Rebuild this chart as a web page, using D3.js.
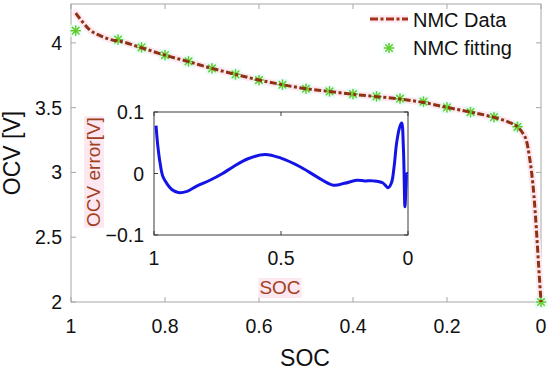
<!DOCTYPE html>
<html>
<head>
<meta charset="utf-8">
<script src="https://cdn.jsdelivr.net/npm/d3@7"></script>
<style>
  body { margin: 0; background: #fff; }
  svg text { font-family: "Liberation Sans", Arial, sans-serif; }
</style>
</head>
<body>
<svg id="chart" width="550" height="371"></svg>
<script>
// main curve (NMC data), SOC vs OCV
const dataSoc = [0.99, 0.974, 0.96, 0.938, 0.91, 0.9, 0.85, 0.8, 0.75, 0.7, 0.65, 0.6, 0.55, 0.5, 0.45, 0.4, 0.35, 0.3, 0.25, 0.2, 0.15, 0.1, 0.07, 0.05, 0.04, 0.03, 0.025, 0.02, 0.015, 0.01, 0.005, 0];
const dataOcv = [4.23, 4.155, 4.10, 4.056, 4.02, 4.015, 3.962, 3.905, 3.855, 3.803, 3.757, 3.713, 3.677, 3.646, 3.625, 3.603, 3.585, 3.566, 3.54, 3.502, 3.466, 3.425, 3.39, 3.352, 3.31, 3.23, 3.13, 3.0, 2.82, 2.57, 2.28, 2.0];

// fitted points (stars)
const fitSoc = [0.99, 0.9, 0.85, 0.8, 0.75, 0.7, 0.65, 0.6, 0.55, 0.5, 0.45, 0.4, 0.35, 0.3, 0.25, 0.2, 0.15, 0.1, 0.05, 0];
const fitOcv = [4.094, 4.025, 3.965, 3.906, 3.857, 3.803, 3.757, 3.713, 3.677, 3.646, 3.625, 3.605, 3.587, 3.569, 3.546, 3.502, 3.466, 3.427, 3.352, 2.0];

// inset: fitting error
const errSoc = [0.992, 0.985, 0.976, 0.965, 0.95, 0.93, 0.904, 0.87, 0.83, 0.78, 0.73, 0.688, 0.63, 0.563, 0.5, 0.425, 0.36, 0.294, 0.25, 0.202, 0.17, 0.137, 0.1, 0.078, 0.065, 0.055, 0.045, 0.033, 0.025, 0.018, 0.012, 0.008, 0.004, 0.001];
const errVal = [0.078, 0.045, 0.017, -0.005, -0.016, -0.026, -0.031, -0.029, -0.02, -0.011, 0.0, 0.011, 0.024, 0.031, 0.025, 0.011, -0.005, -0.019, -0.016, -0.011, -0.012, -0.012, -0.015, -0.023, -0.015, 0.01, 0.049, 0.075, 0.082, 0.04, -0.054, -0.02, 0.0, 0.0];

const xTicks = [1, 0.8, 0.6, 0.4, 0.2, 0];
const yTicks = [2, 2.5, 3, 3.5, 4];
const inXTicks = [1, 0.5, 0];
const inYTicks = [-0.1, 0, 0.1];

const dataColor = "#8e3212";
const legendColor = "#a23218";
const starColor = "#5fcd2a";
const labelBrown = "#a0401c";
const pink = "#fde8f1";
const fs = 19.5;

const svg = d3.select("#chart");

// main axes box
const m = { left: 71, right: 541, top: 4, bottom: 302 };
const x = d3.scaleLinear().domain([1, 0]).range([m.left, m.right]);
const y = d3.scaleLinear().domain([2, 4.3]).range([m.bottom, m.top]);

const axisGrey = "#a6a6a6";

svg.append("rect")
  .attr("x", m.left).attr("y", m.top)
  .attr("width", m.right - m.left).attr("height", m.bottom - m.top)
  .attr("fill", "none").attr("stroke", axisGrey).attr("stroke-width", 1);

// inward ticks, bottom + top, left + right
xTicks.forEach(t => {
  svg.append("line").attr("x1", x(t)).attr("x2", x(t)).attr("y1", m.bottom).attr("y2", m.bottom - 5).attr("stroke", axisGrey);
  svg.append("line").attr("x1", x(t)).attr("x2", x(t)).attr("y1", m.top).attr("y2", m.top + 5).attr("stroke", axisGrey);
  svg.append("text")
    .attr("x", x(t)).attr("y", 333)
    .attr("text-anchor", "middle").attr("font-size", fs).attr("fill", "#111")
    .text(d3.format("~g")(t));
});
yTicks.forEach(t => {
  svg.append("line").attr("x1", m.left).attr("x2", m.left + 5).attr("y1", y(t)).attr("y2", y(t)).attr("stroke", axisGrey);
  svg.append("line").attr("x1", m.right).attr("x2", m.right - 5).attr("y1", y(t)).attr("y2", y(t)).attr("stroke", axisGrey);
  svg.append("text")
    .attr("x", 62).attr("y", y(t)).attr("dy", "0.36em")
    .attr("text-anchor", "end").attr("font-size", fs).attr("fill", "#111")
    .text(d3.format("~g")(t));
});

// axis titles
svg.append("text")
  .attr("x", 305).attr("y", 366)
  .attr("text-anchor", "middle").attr("font-size", 23).attr("fill", "#111")
  .text("SOC");
svg.append("text")
  .attr("transform", "translate(20,153) rotate(-90)")
  .attr("text-anchor", "middle").attr("font-size", 23).attr("fill", "#111")
  .text("OCV [V]");

// star marker helper
function star(g, cx, cy, r) {
  const s = g.append("g").attr("transform", `translate(${cx},${cy})`)
    .attr("stroke", starColor).attr("stroke-width", 1.5).attr("stroke-linecap", "round");
  s.append("rect").attr("x", -r - 1.5).attr("y", -r - 1.5).attr("width", 2 * r + 3).attr("height", 2 * r + 3)
    .attr("fill", "#e4fbf7").attr("stroke", "none").attr("opacity", 0.8);
  s.append("line").attr("x1", -r).attr("x2", r);
  s.append("line").attr("y1", -r).attr("y2", r);
  const d = r * 0.72;
  s.append("line").attr("x1", -d).attr("y1", -d).attr("x2", d).attr("y2", d);
  s.append("line").attr("x1", -d).attr("y1", d).attr("x2", d).attr("y2", -d);
}

// main curve
const mainPts = dataSoc.map((s, i) => [s, dataOcv[i]]);
const line = d3.line().x(d => x(d[0])).y(d => y(d[1])).curve(d3.curveMonotoneX);

svg.append("path")
  .attr("d", line(mainPts))
  .attr("fill", "none").attr("stroke", pink).attr("stroke-width", 7).attr("stroke-linecap", "round");

const starLayer = svg.append("g");
fitSoc.forEach((s, i) => star(starLayer, x(s), y(fitOcv[i]), 4.6));

svg.append("path")
  .attr("d", line(mainPts))
  .attr("fill", "none").attr("stroke", dataColor).attr("stroke-width", 3)
  .attr("stroke-dasharray", "7,2.5,3,2.5");

// legend
const lg = svg.append("g");
lg.append("line").attr("x1", 370).attr("x2", 408).attr("y1", 19).attr("y2", 19)
  .attr("stroke", pink).attr("stroke-width", 7);
lg.append("line").attr("x1", 370).attr("x2", 408).attr("y1", 19).attr("y2", 19)
  .attr("stroke", legendColor).attr("stroke-width", 3).attr("stroke-dasharray", "8,2.5,3,2.5");
lg.append("text").attr("x", 413).attr("y", 27).attr("font-size", 20).attr("fill", "#111").text("NMC Data");
star(lg, 389, 48, 4.6);
lg.append("text").attr("x", 413).attr("y", 55).attr("font-size", 20).attr("fill", "#111").text("NMC fitting");

// inset
const n = { left: 154, right: 408, top: 112, bottom: 235 };
const ix = d3.scaleLinear().domain([1, 0]).range([n.left, n.right]);
const iy = d3.scaleLinear().domain([-0.1, 0.1]).range([n.bottom, n.top]);

svg.append("rect")
  .attr("x", n.left).attr("y", n.top)
  .attr("width", n.right - n.left).attr("height", n.bottom - n.top)
  .attr("fill", "#fff").attr("stroke", "#3a3a3a").attr("stroke-width", 1);

inXTicks.forEach(t => {
  svg.append("line").attr("x1", ix(t)).attr("x2", ix(t)).attr("y1", n.bottom).attr("y2", n.bottom - 4).attr("stroke", "#3a3a3a");
  svg.append("line").attr("x1", ix(t)).attr("x2", ix(t)).attr("y1", n.top).attr("y2", n.top + 4).attr("stroke", "#3a3a3a");
  svg.append("text")
    .attr("x", ix(t)).attr("y", 265)
    .attr("text-anchor", "middle").attr("font-size", fs).attr("fill", "#111")
    .text(d3.format("~g")(t));
});
inYTicks.forEach(t => {
  svg.append("line").attr("x1", n.left).attr("x2", n.left + 4).attr("y1", iy(t)).attr("y2", iy(t)).attr("stroke", "#3a3a3a");
  svg.append("line").attr("x1", n.right).attr("x2", n.right - 4).attr("y1", iy(t)).attr("y2", iy(t)).attr("stroke", "#3a3a3a");
  svg.append("text")
    .attr("x", 144).attr("y", iy(t)).attr("dy", "0.36em")
    .attr("text-anchor", "end").attr("font-size", fs).attr("fill", "#111")
    .text(d3.format("~g")(t));
});

// inset labels with pink highlight
function pinkLabel(txt, tx, ty, rot) {
  const g = svg.append("g").attr("transform", `translate(${tx},${ty}) rotate(${rot})`);
  const t = g.append("text")
    .attr("text-anchor", "middle").attr("font-size", 19).attr("fill", labelBrown)
    .text(txt);
  const b = t.node().getBBox();
  g.insert("rect", "text")
    .attr("x", b.x - 1).attr("y", b.y + 1).attr("width", b.width + 2).attr("height", b.height - 1)
    .attr("fill", pink);
}
pinkLabel("SOC", 280, 294, 0);
pinkLabel("OCV error[V]", 100, 172, -90);

const errPts = errSoc.map((s, i) => [s, errVal[i]]);
svg.append("path")
  .attr("d", d3.line().x(d => ix(d[0])).y(d => iy(d[1])).curve(d3.curveCatmullRom)(errPts))
  .attr("fill", "none").attr("stroke", "#1414e6").attr("stroke-width", 3)
  .attr("stroke-linejoin", "round");
</script>
</body>
</html>
